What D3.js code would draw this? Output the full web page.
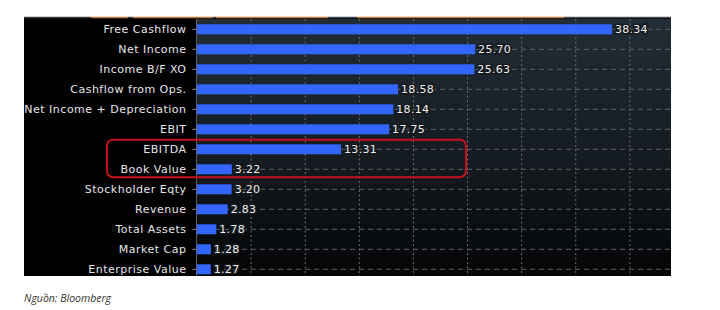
<!DOCTYPE html>
<html>
<head>
<meta charset="utf-8">
<script src="https://cdn.jsdelivr.net/npm/d3@7"></script>
<style>
  html, body { margin: 0; padding: 0; background: #ffffff; }
  svg { display: block; }
</style>
</head>
<body>
<svg id="chart" width="720" height="310"></svg>
<script>
const categories = ["Free Cashflow", "Net Income", "Income B/F XO", "Cashflow from Ops.", "Net Income + Depreciation", "EBIT", "EBITDA", "Book Value", "Stockholder Eqty", "Revenue", "Total Assets", "Market Cap", "Enterprise Value"];
const values = [38.34, 25.70, 25.63, 18.58, 18.14, 17.75, 13.31, 3.22, 3.20, 2.83, 1.78, 1.28, 1.27];
const valueLabels = ["38.34", "25.70", "25.63", "18.58", "18.14", "17.75", "13.31", "3.22", "3.20", "2.83", "1.78", "1.28", "1.27"];
const gridTicks = [5, 10, 15, 20, 25, 30, 35, 40];
const highlighted = ["EBITDA", "Book Value"];
const sourceText = "Nguồn: Bloomberg";

const svg = d3.select("#chart");
const panel = { x0: 24, x1: 671, y0: 18, y1: 276 };
const plotX0 = 197;

const x = d3.scaleLinear().domain([0, 43.8]).range([plotX0, panel.x1]);
const y = d3.scaleBand().domain(categories).range([19.3, 279.3]).paddingInner(0.5).paddingOuter(0.25);

const defs = svg.append("defs");
const grad = defs.append("linearGradient").attr("id", "bg").attr("x1", 0).attr("y1", 0).attr("x2", 0).attr("y2", 1);
grad.append("stop").attr("offset", "0%").attr("stop-color", "#222d36");
grad.append("stop").attr("offset", "55%").attr("stop-color", "#141b21");
grad.append("stop").attr("offset", "100%").attr("stop-color", "#040506");

// black panel
svg.append("rect").attr("x", panel.x0).attr("y", panel.y0).attr("width", panel.x1 - panel.x0).attr("height", panel.y1 - panel.y0).attr("fill", "#000");
// plot area
svg.append("rect").attr("x", plotX0).attr("y", panel.y0 + 1).attr("width", panel.x1 - plotX0).attr("height", panel.y1 - panel.y0 - 1).attr("fill", "url(#bg)");

// top border segments
const topSegs = [[24, 91, "#3a3f44"], [91, 128, "#c77a3c"], [128, 133, "#3a3f44"], [133, 213, "#c77a3c"], [213, 216, "#3a3f44"], [216, 328, "#c77a3c"], [328, 357, "#3d4a5a"], [357, 564, "#c77a3c"], [564, 671, "#4a4f55"]];
svg.append("g").selectAll("line").data(topSegs).join("line")
  .attr("x1", d => d[0]).attr("x2", d => d[1]).attr("y1", 17.5).attr("y2", 17.5)
  .attr("stroke", d => d[2]).attr("stroke-width", 1.5);

// vertical gridlines
svg.append("g").selectAll("line").data(gridTicks).join("line")
  .attr("x1", d => x(d)).attr("x2", d => x(d))
  .attr("y1", panel.y0 + 1).attr("y2", panel.y1)
  .attr("stroke", "#6a6e72").attr("stroke-width", 1).attr("stroke-dasharray", "2,2.5");

// horizontal dashed gridlines at row centers
svg.append("g").selectAll("line").data(categories).join("line")
  .attr("x1", plotX0).attr("x2", panel.x1)
  .attr("y1", d => y(d) + y.bandwidth() / 2).attr("y2", d => y(d) + y.bandwidth() / 2)
  .attr("stroke", "#5e6266").attr("stroke-width", 1).attr("stroke-dasharray", "5,4");

// left axis
const axis = d3.axisLeft(y).tickSize(4).tickPadding(6);
const ag = svg.append("g").attr("transform", `translate(${plotX0 - 0.5},0)`).call(axis);
ag.select(".domain").attr("stroke", "#5a5e62").attr("d", `M0,${panel.y0 + 1}V${panel.y1}`);
ag.selectAll(".tick line").attr("stroke", "#8a8e92");
ag.selectAll(".tick text")
  .attr("fill", "#e6e6e6")
  .attr("font-family", "'DejaVu Sans', Verdana, sans-serif")
  .attr("font-size", "11px")
  .attr("letter-spacing", "0.5px");

// bars
svg.append("g").selectAll("rect").data(categories).join("rect")
  .attr("x", x(0))
  .attr("y", d => y(d))
  .attr("width", (d, i) => x(values[i]) - x(0))
  .attr("height", y.bandwidth())
  .attr("fill", "#3366ff");

// value labels
svg.append("g").selectAll("text").data(categories).join("text")
  .attr("x", (d, i) => x(values[i]) + 3)
  .attr("y", d => y(d) + y.bandwidth() / 2)
  .attr("dy", "0.36em")
  .attr("fill", "#f0f0f0")
  .attr("stroke", "#15191d").attr("stroke-width", 3).attr("paint-order", "stroke")
  .attr("font-family", "'DejaVu Sans', Verdana, sans-serif")
  .attr("font-size", "11px")
  .attr("letter-spacing", "0.3px")
  .text((d, i) => valueLabels[i]);

// highlight box
const hTop = y(highlighted[0]) + y.bandwidth() / 2 - 9.5;
const hBot = y(highlighted[1]) + y.bandwidth() / 2 + 8;
svg.append("rect")
  .attr("x", 107).attr("y", hTop)
  .attr("width", x(24.85) - 107).attr("height", hBot - hTop)
  .attr("rx", 6).attr("ry", 6)
  .attr("fill", "none").attr("stroke", "#c8101c").attr("stroke-width", 2);

// source
svg.append("text")
  .attr("x", 24).attr("y", 302)
  .attr("fill", "#333")
  .attr("font-family", "'Open Sans', 'Noto Sans', sans-serif")
  .attr("font-style", "italic")
  .attr("font-size", "10.5px")
  .text(sourceText);
</script>
</body>
</html>
